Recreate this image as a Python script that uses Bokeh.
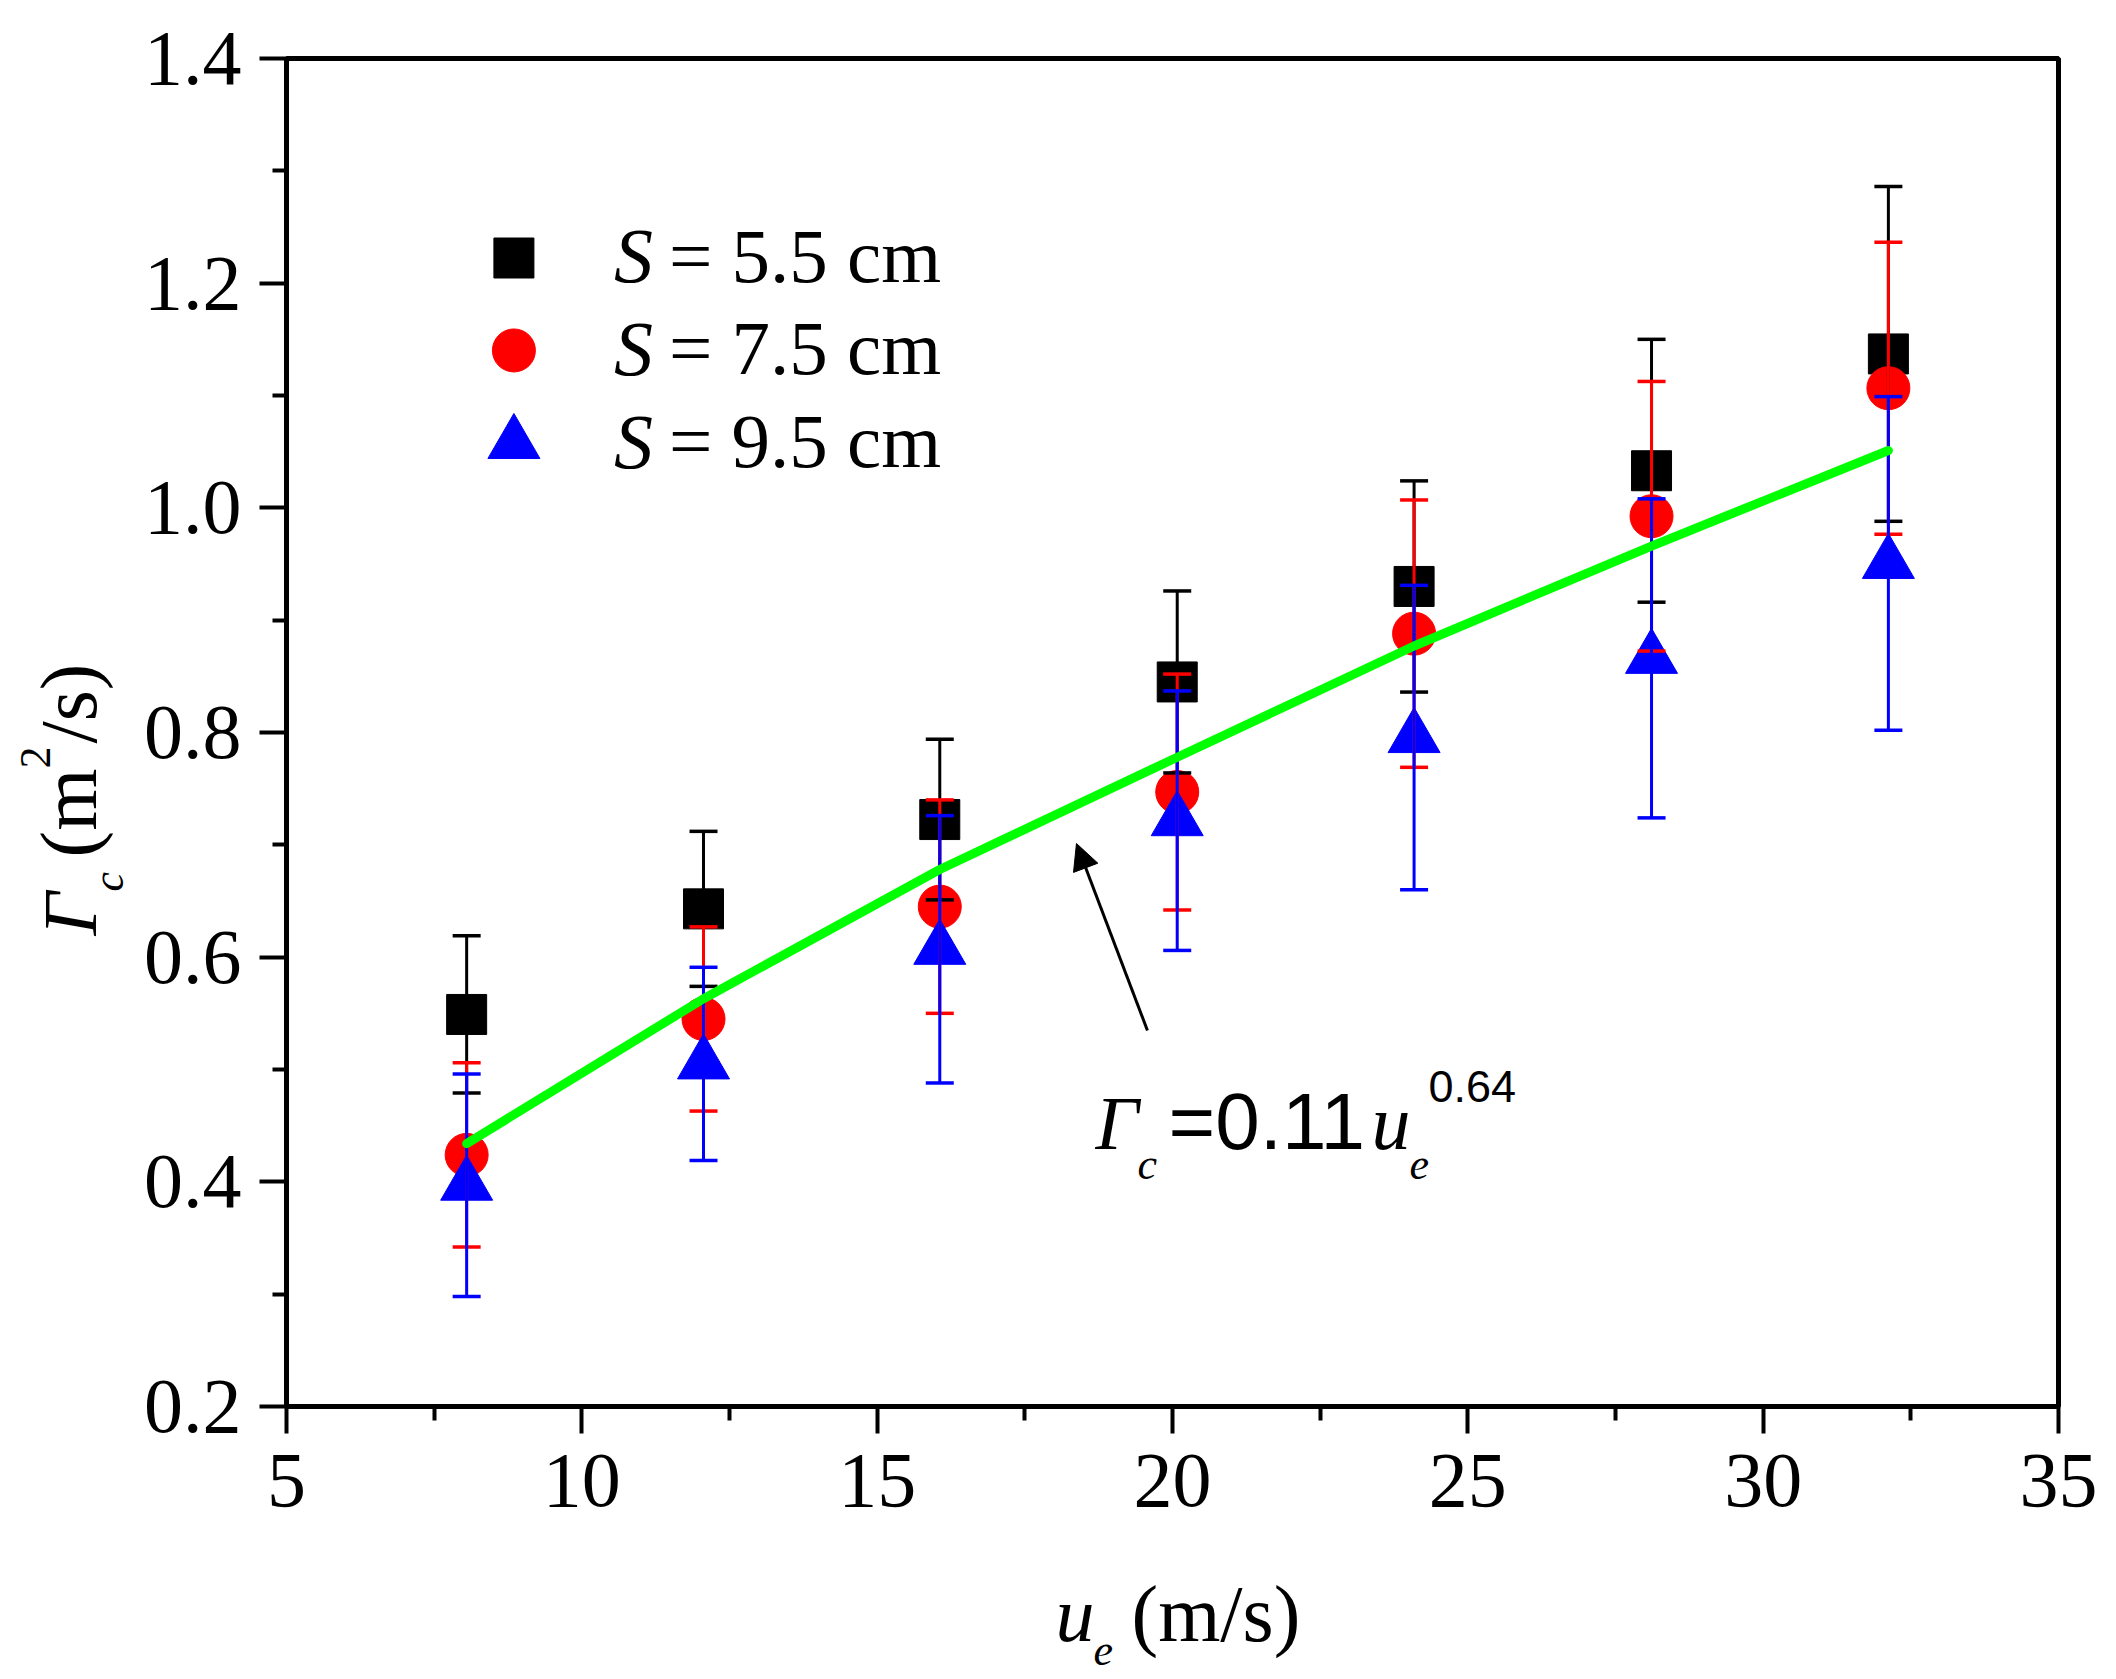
from bokeh.plotting import figure
from bokeh.layouts import row, column
from bokeh.models import Range1d, FixedTicker, PrintfTickFormatter, Label, Arrow, NormalHead
from bokeh.embed import file_html
from bokeh.resources import INLINE

# jet exit velocity u_e (m/s)
u_e = [8.05, 12.06, 16.06, 20.08, 24.09, 28.11, 32.12]

# circulation Gamma_c (m^2/s) and error half-widths, one list per spacing S
gamma_s55 = [0.549, 0.643, 0.7225, 0.845, 0.930, 1.033, 1.137]
err_s55 = [0.070, 0.069, 0.0715, 0.081, 0.094, 0.117, 0.149]
gamma_s75 = [0.424, 0.545, 0.645, 0.747, 0.888, 0.9925, 1.1065]
err_s75 = [0.082, 0.082, 0.095, 0.105, 0.119, 0.120, 0.130]
gamma_s95 = [0.397, 0.505, 0.607, 0.7215, 0.7955, 0.866, 0.9505]
err_s95 = [0.099, 0.086, 0.119, 0.1155, 0.1355, 0.142, 0.1485]

# fitted curve Gamma_c = 0.11 u_e^0.64, as drawn
fit_u = [8.05, 12.06, 16.06, 20.08, 24.09, 28.11, 32.12]
fit_gamma = [0.434, 0.563, 0.678, 0.778, 0.877, 0.966, 1.051]

legend_labels = ["5.5", "7.5", "9.5"]
legend_x = [8.85, 8.85, 8.85]
legend_y = [1.2224, 1.1401, 1.0573]

x_ticks = [5, 10, 15, 20, 25, 30, 35]
x_minor = [7.5, 12.5, 17.5, 22.5, 27.5, 32.5]
y_ticks = [0.2, 0.4, 0.6, 0.8, 1.0, 1.2, 1.4]
y_minor = [0.3, 0.5, 0.7, 0.9, 1.1, 1.3]

SERIF = "Liberation Serif"
SANS = "Liberation Sans"
BASE_FIX = 0.3   # lift applied to alphabetic baselines, in font sizes

TOTAL_H = 1679
LEFT_W = 140
MAIN_W = 2112 - LEFT_W
MAIN_H = 1560
FRAME_LEFT = 286   # page x of the plot frame (strips below are aligned to it)

p = figure(width=MAIN_W, height=MAIN_H, x_range=Range1d(5, 35), y_range=Range1d(0.2, 1.4),
           output_backend="svg", toolbar_location=None,
           min_border_left=FRAME_LEFT - LEFT_W, min_border_right=54,
           min_border_top=58, min_border_bottom=154)
p.grid.visible = False
p.outline_line_color = "black"
p.outline_line_width = 5

p.xaxis.ticker = FixedTicker(ticks=x_ticks, minor_ticks=x_minor)
p.yaxis.ticker = FixedTicker(ticks=y_ticks, minor_ticks=y_minor)
p.xaxis.formatter = PrintfTickFormatter(format="%d")
p.yaxis.formatter = PrintfTickFormatter(format="%.1f")
for ax in (p.xaxis, p.yaxis):
    ax.axis_line_width = 5
    ax.axis_line_color = "black"
    ax.major_tick_line_width = 4
    ax.minor_tick_line_width = 4
    ax.major_tick_in = 0
    ax.major_tick_out = 27
    ax.minor_tick_in = 0
    ax.minor_tick_out = 14
    ax.major_label_text_font = SERIF
    ax.major_label_text_font_size = "78px"
    ax.major_label_text_color = "black"
p.xaxis.major_label_standoff = 21
p.yaxis.major_label_standoff = 18

series = [
    (gamma_s55, err_s55, "black", "square", 40),
    (gamma_s75, err_s75, "red", "circle", 43),
    (gamma_s95, err_s95, "blue", "triangle", 52),
]

# markers first, error bars on top of them
for vals, errs, col, mk, sz in series:
    p.scatter(u_e, vals, marker=mk, size=sz, color=col)

for vals, errs, col, mk, sz in series:
    lo = [v - e for v, e in zip(vals, errs)]
    hi = [v + e for v, e in zip(vals, errs)]
    p.segment(x0=u_e, y0=lo, x1=u_e, y1=hi, line_color=col, line_width=3)
    p.scatter(u_e + u_e, lo + hi, marker="dash", size=28, line_color=col, line_width=3.5)

p.line(fit_u, fit_gamma, line_color="#00ff00", line_width=9, line_cap="round", line_join="round")

p.add_layout(Arrow(end=NormalHead(size=26, fill_color="black", line_color="black", line_width=1),
                   x_start=19.576, y_start=0.5347, x_end=18.374, y_end=0.7012,
                   line_color="black", line_width=3))

# legend drawn by hand (italic S)
for lx, ly, (vals, errs, col, mk, sz) in zip(legend_x, legend_y, series):
    p.scatter([lx], [ly], marker=mk, size=sz, color=col)


def put(fig, x, y, text, size, dx=0, dy=0, font=SERIF, style="normal", angle=0, units="data"):
    if angle:
        dx -= BASE_FIX * size
    else:
        dy += BASE_FIX * size
    fig.add_layout(Label(x=x, y=y, x_units=units, y_units=units, x_offset=dx, y_offset=dy,
                         text=text, text_font=font, text_font_size=f"{size}px",
                         text_font_style=style, text_color="black",
                         angle=angle, angle_units="deg", text_align="left",
                         text_baseline="alphabetic"))


for lab, lx, ly in zip(legend_labels, legend_x, legend_y):
    put(p, lx, ly, "S", 78, dx=100, dy=-21, style="italic")
    put(p, lx, ly, f"= {lab} cm", 77, dx=155, dy=-21)

# fit formula
fx, fy = 18.696, 0.4324
put(p, fx, fy, "Γ", 76, style="italic")
put(p, fx, fy, "c", 44, dx=42, dy=-32, style="italic")
put(p, fx, fy, "=0.11", 80, dx=73, font=SANS)
put(p, fx, fy, "u", 78, dx=276, style="italic")
put(p, fx, fy, "e", 44, dx=314, dy=-32, style="italic")
put(p, fx, fy, "0.64", 45, dx=333, dy=45, font=SANS)


def blank(w, h):
    f = figure(width=w, height=h, x_range=Range1d(0, 1), y_range=Range1d(0, 1),
               output_backend="svg", toolbar_location=None,
               x_axis_location=None, y_axis_location=None, min_border=0)
    f.outline_line_color = None
    f.grid.visible = False
    return f


# y axis title, rotated, in a strip left of the plot
left = blank(LEFT_W, TOTAL_H)
put(left, 92, TOTAL_H - 935, "Γ", 76, style="italic", angle=90, units="screen")
put(left, 121, TOTAL_H - 891, "c", 44, style="italic", angle=90, units="screen")
put(left, 92, TOTAL_H - 857, "(m", 80, angle=90, units="screen")
put(left, 48, TOTAL_H - 768, "2", 44, angle=90, units="screen")
put(left, 92, TOTAL_H - 743, "/s)", 80, angle=90, units="screen")

# x axis title in a strip below the plot (its frame is aligned with the plot frame)
bottom = blank(MAIN_W, TOTAL_H - MAIN_H)
bx = -FRAME_LEFT
put(bottom, bx + 1055, TOTAL_H - 1637, "u", 78, style="italic", units="screen")
put(bottom, bx + 1093, TOTAL_H - 1663, "e", 44, style="italic", units="screen")
put(bottom, bx + 1131, TOTAL_H - 1637, "(m/s)", 80, units="screen")

layout = row(left, column(p, bottom))

open("out.html", "w").write(file_html(layout, INLINE))
